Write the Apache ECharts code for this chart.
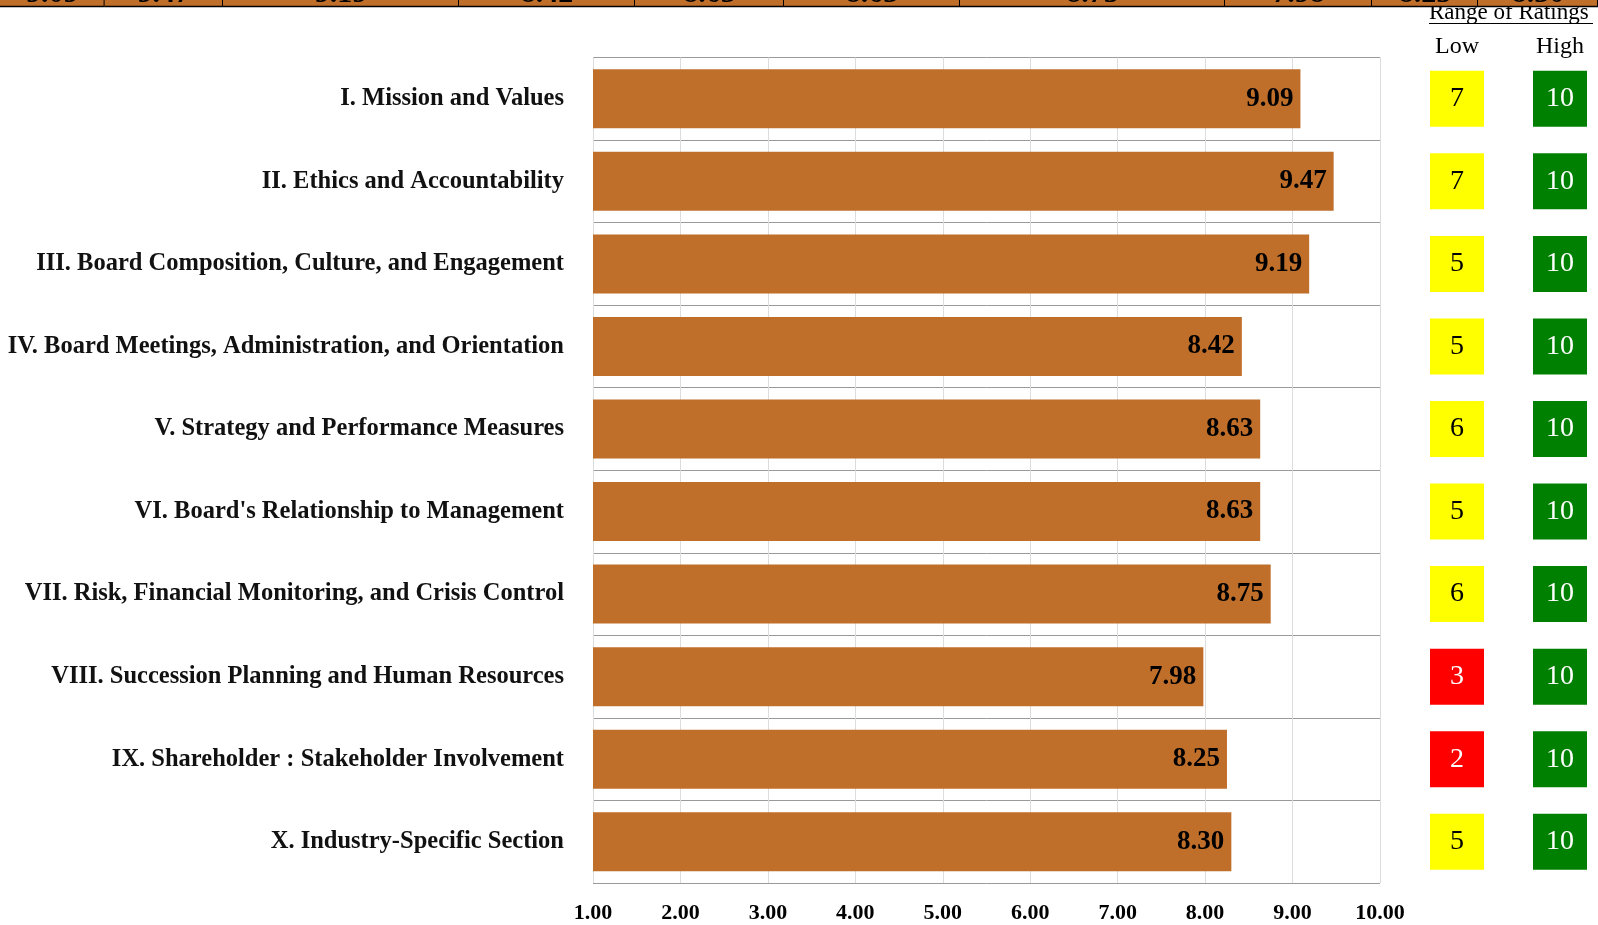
<!DOCTYPE html>
<html>
<head>
<meta charset="utf-8">
<script src="https://cdn.jsdelivr.net/npm/echarts@6/dist/echarts.min.js"></script>
<style>
  html, body { margin: 0; padding: 0; background: #fff; }
  #chart { width: 1598px; height: 925px; }
</style>
</head>
<body>
<div id="chart"></div>
<script>
// ---- Data ----
const categories = [
  'I. Mission and Values',
  'II. Ethics and Accountability',
  'III. Board Composition, Culture, and Engagement',
  'IV. Board Meetings, Administration, and Orientation',
  'V. Strategy and Performance Measures',
  "VI. Board's Relationship to Management",
  'VII. Risk, Financial Monitoring, and Crisis Control',
  'VIII. Succession Planning and Human Resources',
  'IX. Shareholder : Stakeholder Involvement',
  'X. Industry-Specific Section'
];
const scores = [9.09, 9.47, 9.19, 8.42, 8.63, 8.63, 8.75, 7.98, 8.25, 8.30];
const lowRatings = [7, 7, 5, 5, 6, 5, 6, 3, 2, 5];
const highRatings = [10, 10, 10, 10, 10, 10, 10, 10, 10, 10];
const rangeHeaders = ['Low', 'High'];
const axisMin = 1, axisMax = 10, axisStep = 1;
// cropped summary row at the very top (column edges of the table, in px of the page)
const bannerEdges = [0, 104.6, 223, 459, 635, 784, 960, 1225, 1372, 1478, 1598];
const bannerValues = scores;

// ---- Styles ----
const SERIF = "'Liberation Serif', 'Times New Roman', serif";
const BAR = '#C06F2B';

function ratingColor(v) {
  if (v >= 10) return { bg: '#008000', fg: '#ffffff' };
  if (v <= 3) return { bg: '#FF0000', fg: '#ffffff' };
  return { bg: '#FFFF00', fg: '#000000' };
}

function ratingData(values, col) {
  return values.map((v, i) => {
    const c = ratingColor(v);
    return {
      value: [col, i, v],
      itemStyle: { color: c.bg, opacity: 1 },
      label: { color: c.fg }
    };
  });
}

const bannerData = bannerValues.map((v, i) => [bannerEdges[i], bannerEdges[i + 1], v]);

const chart = echarts.init(document.getElementById('chart'), null, { renderer: 'canvas' });

const ratingLabel = {
  show: true, position: 'inside', formatter: p => String(p.value[2]),
  fontFamily: SERIF, fontSize: 28
};

const option = {
  animation: false,
  backgroundColor: '#ffffff',
  grid: [
    { left: 593, right: 218, top: 57.5, bottom: 42 },
    { left: 1457, width: 103, top: 57.5, bottom: 42 },
    { left: 0, right: 0, top: 0, height: 7 }
  ],
  xAxis: [
    {
      gridIndex: 0, type: 'value', min: axisMin, max: axisMax, interval: axisStep,
      axisLine: { show: false }, axisTick: { show: false },
      splitLine: { show: true, lineStyle: { color: '#DCDCDC', width: 1 } },
      axisLabel: {
        formatter: v => v.toFixed(2), margin: 19,
        fontFamily: SERIF, fontSize: 22, fontWeight: 'bold', color: '#000'
      }
    },
    {
      gridIndex: 1, type: 'category', data: rangeHeaders, position: 'top', boundaryGap: false,
      axisLine: { show: false }, axisTick: { show: false }, splitLine: { show: false },
      axisLabel: { margin: -1, fontFamily: SERIF, fontSize: 24, color: '#000' }
    },
    {
      gridIndex: 2, type: 'value', min: 0, max: 1598, show: false
    }
  ],
  yAxis: [
    {
      gridIndex: 0, type: 'category', data: categories, inverse: true,
      axisLine: { show: false }, axisTick: { show: false },
      splitLine: { show: true, lineStyle: { color: '#9A9A9A', width: 1 } },
      axisLabel: {
        margin: 29, fontFamily: SERIF, fontSize: 24.5, fontWeight: 'bold', color: '#111'
      }
    },
    {
      gridIndex: 1, type: 'category', data: categories, inverse: true, show: false
    },
    {
      gridIndex: 2, type: 'value', min: 0, max: 1, show: false
    }
  ],
  graphic: [
    {
      type: 'text', left: 1429, top: 1, z: 5,
      style: { text: 'Range of Ratings', font: "23px 'Liberation Serif', serif", fill: '#000' }
    },
    {
      type: 'line', z: 5,
      shape: { x1: 1429, y1: 23.5, x2: 1593, y2: 23.5 },
      style: { stroke: '#000', lineWidth: 1 }
    }
  ],
  series: [
    {
      type: 'bar', xAxisIndex: 0, yAxisIndex: 0,
      data: scores,
      barWidth: 59,
      itemStyle: { color: BAR },
      label: {
        show: true, position: 'insideRight', distance: 7,
        formatter: p => p.value.toFixed(2),
        fontFamily: SERIF, fontSize: 27, fontWeight: 'bold', color: '#000'
      }
    },
    {
      type: 'scatter', xAxisIndex: 1, yAxisIndex: 1,
      symbol: 'rect', symbolSize: [54, 56],
      data: ratingData(lowRatings, 0),
      label: ratingLabel
    },
    {
      type: 'scatter', xAxisIndex: 1, yAxisIndex: 1,
      symbol: 'rect', symbolSize: [54, 56],
      data: ratingData(highRatings, 1),
      label: ratingLabel
    },
    {
      type: 'custom', xAxisIndex: 2, yAxisIndex: 2, z: 10,
      data: bannerData,
      clip: false,
      renderItem: function (params, api) {
        const x0 = api.coord([api.value(0), 0])[0];
        const x1 = api.coord([api.value(1), 0])[0];
        return {
          type: 'group',
          children: [
            { type: 'rect', shape: { x: x0, y: 0, width: x1 - x0, height: 7 }, style: { fill: BAR } },
            {
              type: 'text',
              style: {
                text: api.value(2).toFixed(2), x: (x0 + x1) / 2, y: -6,
                align: 'center', verticalAlign: 'middle',
                font: "bold 30px 'Liberation Serif', serif", fill: '#000'
              }
            },
            { type: 'line', shape: { x1: x1, y1: 0, x2: x1, y2: 7 }, style: { stroke: '#000', lineWidth: 2 } },
            { type: 'line', shape: { x1: x0, y1: 6.5, x2: x1, y2: 6.5 }, style: { stroke: '#000', lineWidth: 1.5 } }
          ]
        };
      }
    }
  ]
};

chart.setOption(option);
</script>
</body>
</html>
